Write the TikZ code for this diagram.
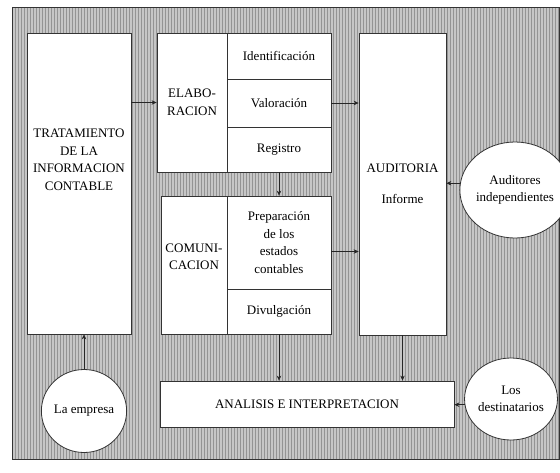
\documentclass[tikz,border=0pt]{standalone}
\usepackage{fontspec}
\setmainfont{Liberation Serif}
\usepackage{tikz}
\usetikzlibrary{shapes.geometric,patterns,arrows.meta}
\newcommand{\txt}{\fontsize{13}{17.5}\selectfont}

\begin{document}
\begin{tikzpicture}[x=1pt,y=-1pt,
  caja/.style={draw=black!80,line width=0.8pt,fill=white,inner sep=0pt,align=center,font=\txt},
  ovalo/.style={ellipse,draw=black!80,line width=0.8pt,fill=white,inner sep=0pt,align=center,font=\txt},
  texto/.style={align=center,font=\txt,inner sep=0pt},
  flecha/.style={-{Stealth[length=5pt,width=4.5pt]},line width=0.6pt,black!85}]
\useasboundingbox (0,0) rectangle (560,472);

\fill[gray!45] (12,7) rectangle (559,459);
\fill[pattern=vertical lines,pattern color=gray!85] (12,7) rectangle (559,459);
\draw[black!80,line width=0.8pt] (12,7) rectangle (559,459);

\node[caja,minimum width=104,minimum height=301] (trat) at (79,183.5) {};
\node[texto] (tratxt) at (79,160) {TRATAMIENTO\\DE LA\\INFORMACION\\CONTABLE};

\node[caja,minimum width=70,minimum height=139] (elab) at (192,102.5) {ELABO-\\RACION};
\node[caja,minimum width=104,minimum height=46] (ident) at (279,56) {Identificación};
\node[caja,minimum width=104,minimum height=48] (valor) at (279,103) {Valoración};
\node[caja,minimum width=104,minimum height=45] (regis) at (279,149.5) {Registro};

\node[caja,minimum width=66,minimum height=138] (comun) at (194,265) {};
\node[texto] (comuntxt) at (194,257) {COMUNI-\\CACION};
\node[caja,minimum width=104,minimum height=93] (prep) at (279,242.5) {Preparación\\de los\\estados\\contables};
\node[caja,minimum width=104,minimum height=45] (divul) at (279,311.5) {Divulgación};

\node[caja,minimum width=87,minimum height=302] (audit) at (402.5,184) {AUDITORIA\\[14pt]Informe};

\node[caja,minimum width=294,minimum height=46] (anal) at (307,404) {ANALISIS E INTERPRETACION};

\node[ovalo,minimum width=76,minimum height=83] (empresa) at (84,411) {La empresa};
\node[ovalo,minimum width=84,minimum height=96] (auditores) at (515,190) {Auditores\\independientes};
\node[ovalo,minimum width=74,minimum height=82] (destin) at (511,399) {Los\\destinatarios};

\draw[flecha] (trat.east |- elab.west) -- (elab.west);
\draw[flecha] (valor.east) -- (valor.east -| audit.west);
\draw[flecha] (regis.south) -- (prep.north);
\draw[flecha] ([yshift=-9pt]prep.east) -- ([yshift=-9pt]prep.east -| audit.west);
\draw[flecha] (auditores.173) -- (auditores.173 -| audit.east);
\draw[flecha] (empresa.north) -- (empresa.north |- trat.south);
\draw[flecha] (divul.south) -- (divul.south |- anal.north);
\draw[flecha] (audit.south) -- (audit.south |- anal.north);
\draw[flecha] (destin.187) -- (destin.187 -| anal.east);

\end{tikzpicture}
\end{document}
